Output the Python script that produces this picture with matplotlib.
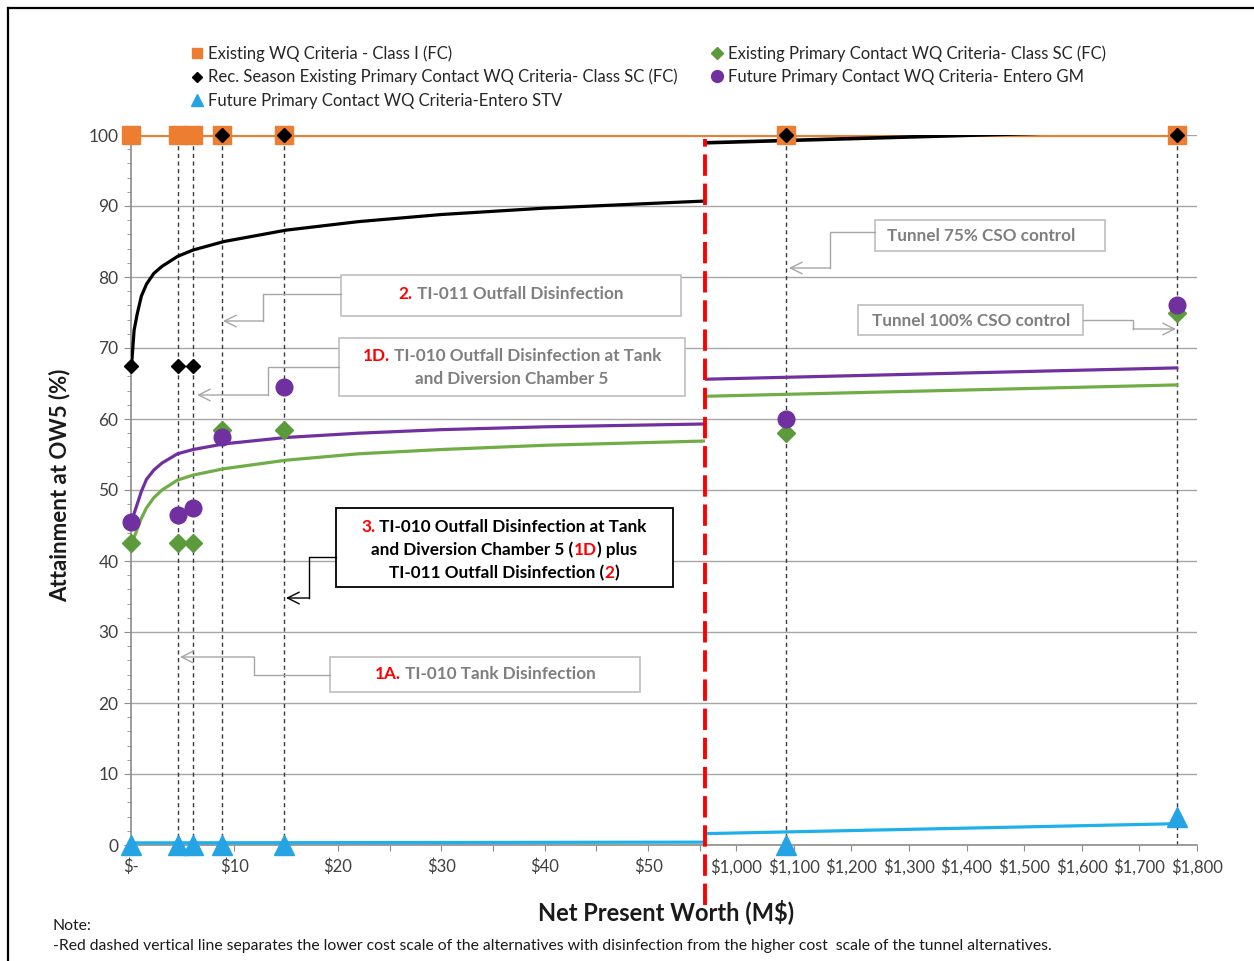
import matplotlib.pyplot as plt
from matplotlib.lines import Line2D
from matplotlib.patches import Rectangle
from matplotlib.transforms import IdentityTransform

plt.rcParams['font.family'] = ['Lato', 'DejaVu Sans']

W, H = 1254, 961

# Alternatives: lower-cost (disinfection) and higher-cost (tunnel), NPW in M$
alt_low = [0, 4.5, 6.0, 8.8, 14.8]
alt_high = [1087, 1765]

# Attainment at OW5 (%) for each criterion
class_i_low = [100, 100, 100, 100, 100]
class_i_high = [100, 100]
sc_low = [42.5, 42.5, 42.5, 58.5, 58.5]
sc_high = [58.0, 75.0]
rec_sc_low = [67.5, 67.5, 67.5, 100, 100]
rec_sc_high = [100, 100]
gm_low = [45.5, 46.5, 47.5, 57.5, 64.5]
gm_high = [60.0, 76.0]
stv_low = [0, 0, 0, 0, 0]
stv_high = [0, 4.0]

# Trend lines
trend_x_low = [0.05, 0.3, 0.6, 1.0, 1.5, 2.2, 3.0, 4.5, 6.0, 9.0, 15.0, 22.0, 30.0, 40.0, 55.5]
rec_sc_trend_low = [67.5, 72.5, 74.8, 77.3, 79.0, 80.5, 81.5, 82.9, 83.8, 85.0, 86.6, 87.8, 88.8, 89.7, 90.7]
gm_trend_low = [45.5, 46.7, 48.0, 49.8, 51.5, 52.8, 53.8, 55.1, 55.7, 56.5, 57.4, 58.0, 58.5, 58.9, 59.3]
sc_trend_low = [42.5, 43.3, 44.5, 46.0, 47.5, 48.9, 50.0, 51.4, 52.1, 53.0, 54.2, 55.1, 55.7, 56.3, 56.9]
flat_x_low = [0, 55.5]
class_i_trend_low = [100, 100]
stv_trend_low = [0.3, 0.4]

trend_x_high = [946, 1765]
class_i_trend_high = [100, 100]
rec_sc_trend_high = [98.9, 100.8]
gm_trend_high = [65.6, 67.2]
sc_trend_high = [63.2, 64.8]
stv_trend_high = [1.6, 3.0]

x_low_lim = (0, 55.5)
x_high_lim = (946, 1800)

ORANGE = '#ed7d31'
GREEN_L = '#70ad47'
GREEN_M = '#5b9b3c'
PURPLE = '#7030a0'
BLUE_L = '#1fb0ec'
BLUE_M = '#26a3e4'
RED = '#ff0000'
GRID = '#a6a6a6'
AXIS = '#8c8c8c'
TXT = '#404040'
GRAY_TXT = '#7f7f7f'
BOX_GRAY = '#bfbfbf'

fig = plt.figure(figsize=(W / 100, H / 100), dpi=100)
fig.patch.set_facecolor('white')

bottom = 1 - 845 / H
height = (845 - 135) / H
ax_l = fig.add_axes([131 / W, bottom, (705 - 131) / W, height])
ax_r = fig.add_axes([705 / W, bottom, (1197 - 705) / W, height])

for ax, xl in ((ax_l, x_low_lim), (ax_r, x_high_lim)):
    ax.set_xlim(*xl)
    ax.set_ylim(0, 100)
    ax.set_facecolor('none')
    for s in ('top', 'right'):
        ax.spines[s].set_visible(False)
    ax.spines['bottom'].set_color(AXIS)
    ax.spines['bottom'].set_linewidth(1.2)
    ax.set_yticks(range(0, 101, 10))
    ax.grid(axis='y', color=GRID, lw=1)
    ax.set_axisbelow(True)
    ax.tick_params(axis='x', colors=AXIS, labelcolor=TXT, labelsize=12, length=4, pad=6)

ax_l.spines['left'].set_color(AXIS)
ax_l.spines['left'].set_linewidth(1.2)
ax_l.set_yticks(range(0, 101, 2), minor=True)
ax_l.tick_params(axis='y', which='major', colors=AXIS, labelcolor=TXT, labelsize=12.5, length=5, pad=4)
ax_l.tick_params(axis='y', which='minor', colors=AXIS, length=3)
ax_l.set_xticks(range(0, 56, 5))
ax_l.set_xticklabels(['$-' if v == 0 else (f'${v}' if v % 10 == 0 else '') for v in range(0, 56, 5)])

ax_r.spines['left'].set_visible(False)
ax_r.tick_params(axis='y', left=False, labelleft=False)
ax_r.set_xticks(range(1000, 1801, 100))
ax_r.set_xticklabels([f'${v:,}' for v in range(1000, 1801, 100)])

# drop lines
ax_l.vlines(alt_low[1:], 0, class_i_low[1:], colors='#3a3a3a', lw=1, linestyles=(0, (3, 2.5)), zorder=2)
ax_r.vlines(alt_high, 0, class_i_high, colors='#3a3a3a', lw=1, linestyles=(0, (3, 2.5)), zorder=2)

# trend lines
ax_l.plot(flat_x_low, class_i_trend_low, color=ORANGE, lw=2.3, zorder=3)
ax_l.plot(trend_x_low, sc_trend_low, color=GREEN_L, lw=2.3, zorder=3)
ax_l.plot(trend_x_low, rec_sc_trend_low, color='black', lw=2.3, zorder=3)
ax_l.plot(trend_x_low, gm_trend_low, color=PURPLE, lw=2.3, zorder=3)
ax_l.plot(flat_x_low, stv_trend_low, color=BLUE_L, lw=2.3, zorder=3)

ax_r.plot(trend_x_high, class_i_trend_high, color=ORANGE, lw=2.3, zorder=3)
ax_r.plot(trend_x_high, sc_trend_high, color=GREEN_L, lw=2.3, zorder=3)
ax_r.plot(trend_x_high, rec_sc_trend_high, color='black', lw=2.6, zorder=3)
ax_r.plot(trend_x_high, gm_trend_high, color=PURPLE, lw=2.3, zorder=3)
ax_r.plot(trend_x_high, stv_trend_high, color=BLUE_L, lw=2.3, zorder=3)

# markers
for ax, xs, ci, sc, rs, gm, stv in ((ax_l, alt_low, class_i_low, sc_low, rec_sc_low, gm_low, stv_low),
                                    (ax_r, alt_high, class_i_high, sc_high, rec_sc_high, gm_high, stv_high)):
    ax.plot(xs, ci, ls='none', marker='s', ms=13, color=ORANGE, clip_on=False, zorder=5)
    ax.plot(xs, sc, ls='none', marker='D', ms=9, color=GREEN_M, clip_on=False, zorder=5)
    ax.plot(xs, rs, ls='none', marker='D', ms=7, color='black', clip_on=False, zorder=5)
    ax.plot(xs, gm, ls='none', marker='o', ms=12, color=PURPLE, clip_on=False, zorder=5)
    ax.plot(xs, stv, ls='none', marker='^', ms=14, color=BLUE_M, clip_on=False, zorder=5)

# red separator
ax_r.plot([x_high_lim[0]] * 2, [-8.5, 99.5], color=RED, lw=2.8, dashes=(5.5, 2), clip_on=False, zorder=6)

# legends
leg_kw = dict(loc='upper left', frameon=False, fontsize=12, handlelength=0.8, handletextpad=0.27,
              labelspacing=0.44, borderpad=0, borderaxespad=0, labelcolor='#262626')
h1 = [Line2D([], [], ls='none', marker='s', ms=7.5, color=ORANGE),
      Line2D([], [], ls='none', marker='D', ms=5.5, color='black'),
      Line2D([], [], ls='none', marker='^', ms=8.5, color=BLUE_M)]
l1 = ['Existing WQ Criteria - Class I (FC)',
      'Rec. Season Existing Primary Contact WQ Criteria- Class SC (FC)',
      'Future Primary Contact WQ Criteria-Entero STV']
h2 = [Line2D([], [], ls='none', marker='D', ms=6, color=GREEN_M),
      Line2D([], [], ls='none', marker='o', ms=8.5, color=PURPLE)]
l2 = ['Existing Primary Contact WQ Criteria- Class SC (FC)',
      'Future Primary Contact WQ Criteria- Entero GM']
fig.legend(h1, l1, bbox_to_anchor=(190 / W, 1 - 45 / H), **leg_kw)
fig.legend(h2, l2, bbox_to_anchor=(710 / W, 1 - 45 / H), **leg_kw)

# axis titles and note
fig.text(60 / W, 1 - 485 / H, 'Attainment at OW5 (%)', rotation=90, ha='center', va='center',
         fontsize=16, fontweight='bold', color='#1a1a1a')
fig.text(666 / W, 1 - 912 / H, 'Net Present Worth (M$)', ha='center', va='center',
         fontsize=17, fontweight='bold', color='#1a1a1a')
fig.text(53 / W, 1 - 926 / H, 'Note:', va='center', fontsize=11.3, color='#1a1a1a')
fig.text(53 / W, 1 - 946 / H, '-Red dashed vertical line separates the lower cost scale of the alternatives '
         'with disinfection from the higher cost  scale of the tunnel alternatives.',
         va='center', fontsize=11.3, color='#1a1a1a')

# frame around the picture
fig.add_artist(Line2D([8 / W, 1], [1 - 8 / H, 1 - 8 / H], color='black', lw=1.6, transform=fig.transFigure))
fig.add_artist(Line2D([8 / W, 8 / W], [0, 1 - 8 / H], color='black', lw=1.6, transform=fig.transFigure))

renderer = fig.canvas.get_renderer()


def box(x0, y0, x1, y1, ec, lw=1.2):
    fig.add_artist(Rectangle((x0 / W, 1 - y1 / H), (x1 - x0) / W, (y1 - y0) / H, transform=fig.transFigure,
                             facecolor='white', edgecolor=ec, lw=lw, zorder=2))


def rich_line(parts, cx, cy, size=12.3):
    texts = [fig.text(0, 0, s, color=c, fontsize=size, fontweight='bold', ha='left', va='center',
                      transform=IdentityTransform(), zorder=4) for s, c in parts]
    widths = [t.get_window_extent(renderer).width for t in texts]
    x = cx - sum(widths) / 2
    for t, w in zip(texts, widths):
        t.set_position((x, H - cy))
        x += w


def connector(pts, color, lw=1.0):
    xs = [p[0] / W for p in pts[:-1]]
    ys = [1 - p[1] / H for p in pts[:-1]]
    fig.add_artist(Line2D(xs, ys, color=color, lw=lw, transform=fig.transFigure, zorder=2))
    (xa, ya), (xb, yb) = pts[-2], pts[-1]
    ax_l.annotate('', xy=(xb, H - yb), xytext=(xa, H - ya), xycoords='figure pixels',
                  textcoords='figure pixels', annotation_clip=False,
                  arrowprops=dict(arrowstyle='->, head_length=0.6, head_width=0.3', color=color, lw=lw,
                                  shrinkA=0, shrinkB=0, mutation_scale=14))


# 2. TI-011
box(341, 275, 681, 316, BOX_GRAY)
connector([(341, 294), (263, 294), (263, 321), (223, 321)], GRID)
rich_line([('2.', RED), (' TI-011 Outfall Disinfection', GRAY_TXT)], 511, 294)

# 1D. TI-010
box(339, 338, 685, 396, BOX_GRAY)
connector([(339, 367), (268, 367), (268, 395), (197, 395)], GRID)
rich_line([('1D.', RED), (' TI-010 Outfall Disinfection at Tank', GRAY_TXT)], 512, 356)
rich_line([('and Diversion Chamber 5', GRAY_TXT)], 512, 379)

# 3. combined
box(336, 508, 673, 587, 'black', lw=1.3)
connector([(336, 557), (309, 557), (309, 598), (286, 598)], 'black')
rich_line([('3.', RED), (' TI-010 Outfall Disinfection at Tank', 'black')], 504, 527)
rich_line([('and Diversion Chamber 5 (', 'black'), ('1D', RED), (') plus', 'black')], 504, 550)
rich_line([('TI-011 Outfall Disinfection (', 'black'), ('2', RED), (')', 'black')], 504, 573)

# 1A. TI-010 tank
box(330, 657, 640, 692, BOX_GRAY)
connector([(330, 675), (254, 675), (254, 657), (180, 657)], GRID)
rich_line([('1A.', RED), (' TI-010 Tank Disinfection', GRAY_TXT)], 485, 674)

# tunnels
box(875, 220, 1105, 251, BOX_GRAY)
connector([(875, 232), (830, 232), (830, 268), (789, 268)], GRID)
rich_line([('Tunnel 75% CSO control', GRAY_TXT)], 981, 236)

box(858, 305, 1083, 335, BOX_GRAY)
connector([(1083, 320), (1133, 320), (1133, 329), (1176, 329)], GRID)
rich_line([('Tunnel 100% CSO control', GRAY_TXT)], 971, 321)

fig.savefig('out.png', dpi=100)
